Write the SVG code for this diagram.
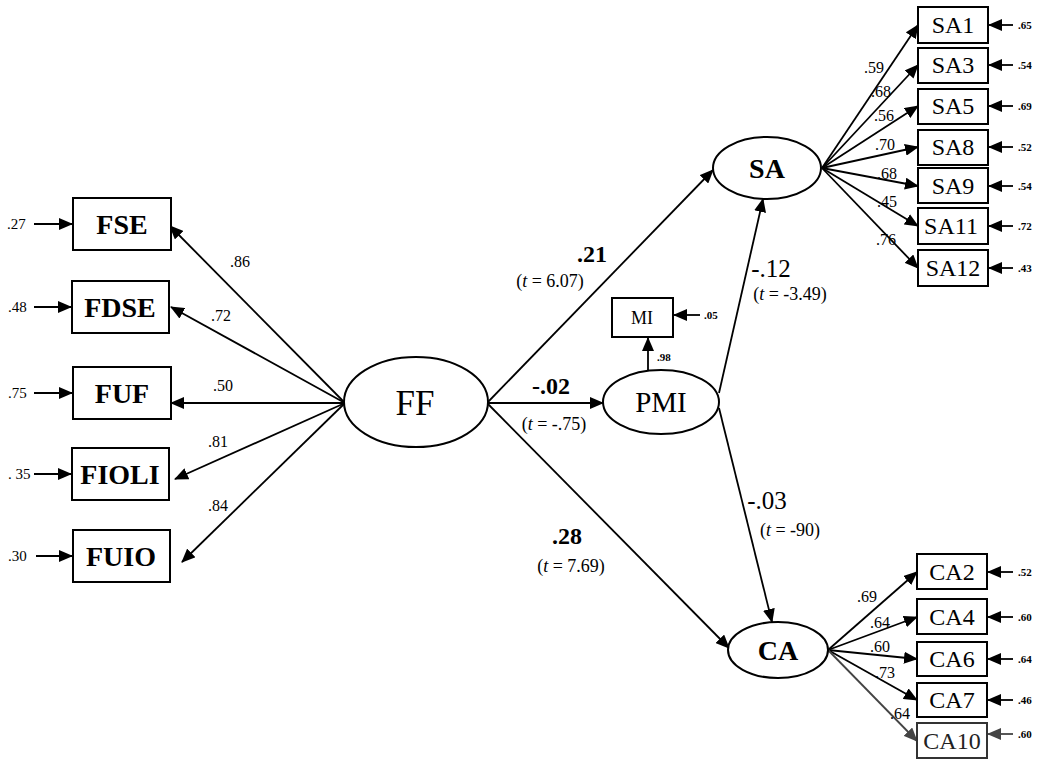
<svg xmlns="http://www.w3.org/2000/svg" width="1051" height="760" viewBox="0 0 1051 760">
<style>
.bx{fill:#fff;stroke:#000;stroke-width:2}
.el{fill:#fff;stroke:#000;stroke-width:2}
.ln{stroke:#000;stroke-width:1.8;fill:none;marker-end:url(#ah)}
.t{font-family:"Liberation Serif",serif;fill:#000}
.lb{font-size:28px;font-weight:bold;text-anchor:middle}
.ib{font-size:24px;text-anchor:middle}
.ld{font-size:16px}
.er{font-size:11px;font-weight:bold}
.erl{font-size:15px}
.pc{font-size:24px;font-weight:bold;text-anchor:middle}
.pr{font-size:25px;text-anchor:middle}
.tv{font-size:18px;text-anchor:middle}
</style>
<defs>
<marker id="ah" markerUnits="userSpaceOnUse" markerWidth="14" markerHeight="12" refX="13" refY="6" orient="auto">
<path d="M0,0 L14,6 L0,12 z" fill="#000"/>
</marker>
<marker id="ahg" markerUnits="userSpaceOnUse" markerWidth="14" markerHeight="12" refX="13" refY="6" orient="auto">
<path d="M0,0 L14,6 L0,12 z" fill="#444"/>
</marker>
</defs>
<rect width="1051" height="760" fill="#fff"/>

<g id="connectors">
<line class="ln" x1="345" y1="403" x2="170" y2="226"/>
<line class="ln" x1="345" y1="403" x2="171" y2="307"/>
<line class="ln" x1="345" y1="403" x2="171" y2="403"/>
<line class="ln" x1="345" y1="403" x2="175" y2="479"/>
<line class="ln" x1="345" y1="403" x2="182" y2="562"/>
<line class="ln" x1="34" y1="224" x2="72" y2="224"/>
<line class="ln" x1="34" y1="307" x2="71" y2="307"/>
<line class="ln" x1="34" y1="393" x2="72" y2="393"/>
<line class="ln" x1="34" y1="474" x2="71" y2="474"/>
<line class="ln" x1="36" y1="556" x2="72" y2="556"/>
<line class="ln" x1="488" y1="402" x2="713" y2="170"/>
<line class="ln" x1="488" y1="403" x2="603" y2="403"/>
<line class="ln" x1="488" y1="404" x2="729" y2="648"/>
<line class="ln" x1="719" y1="393" x2="763" y2="199"/>
<line class="ln" x1="719" y1="408" x2="772" y2="622"/>
<line class="ln" x1="648" y1="370" x2="648" y2="338"/>
<line class="ln" x1="700" y1="315" x2="674" y2="315"/>
<line class="ln" x1="822" y1="168" x2="918" y2="25"/>
<line class="ln" x1="822" y1="168" x2="918" y2="65"/>
<line class="ln" x1="822" y1="168" x2="918" y2="106"/>
<line class="ln" x1="822" y1="168" x2="918" y2="147"/>
<line class="ln" x1="822" y1="168" x2="918" y2="186"/>
<line class="ln" x1="822" y1="168" x2="918" y2="226"/>
<line class="ln" x1="822" y1="168" x2="918" y2="268"/>
<line class="ln" x1="1013" y1="25" x2="989" y2="25"/>
<line class="ln" x1="1013" y1="65" x2="989" y2="65"/>
<line class="ln" x1="1013" y1="106" x2="989" y2="106"/>
<line class="ln" x1="1013" y1="147" x2="989" y2="147"/>
<line class="ln" x1="1013" y1="186" x2="989" y2="186"/>
<line class="ln" x1="1013" y1="226" x2="989" y2="226"/>
<line class="ln" x1="1013" y1="268" x2="989" y2="268"/>
<line class="ln" x1="828" y1="650" x2="917" y2="572"/>
<line class="ln" x1="828" y1="650" x2="917" y2="617"/>
<line class="ln" x1="828" y1="650" x2="917" y2="659"/>
<line class="ln" x1="828" y1="650" x2="917" y2="700"/>
<line class="ln" x1="828" y1="650" x2="917" y2="741" style="stroke:#444;marker-end:url(#ahg)"/>
<line class="ln" x1="1013" y1="572" x2="988" y2="572"/>
<line class="ln" x1="1013" y1="617" x2="988" y2="617"/>
<line class="ln" x1="1013" y1="659" x2="988" y2="659"/>
<line class="ln" x1="1013" y1="700" x2="988" y2="700"/>
<line class="ln" x1="1013" y1="734" x2="988" y2="734" style="stroke:#444;marker-end:url(#ahg)"/>
<g class="t">
<text class="ld" x="230" y="267">.86</text>
<text class="ld" x="211" y="321">.72</text>
<text class="ld" x="213" y="391">.50</text>
<text class="ld" x="208" y="447">.81</text>
<text class="ld" x="208" y="511">.84</text>
<text class="erl" x="7" y="229">.27</text>
<text class="erl" x="8" y="312">.48</text>
<text class="erl" x="8" y="398">.75</text>
<text class="erl" x="8" y="479">. 35</text>
<text class="erl" x="8" y="561">.30</text>
<text class="pc" x="592" y="262">.21</text>
<text class="tv" x="550" y="287">(<tspan font-style="italic">t</tspan> = 6.07)</text>
<text class="pc" x="551" y="394">-.02</text>
<text class="tv" x="554" y="430">(<tspan font-style="italic">t</tspan> = -.75)</text>
<text class="pc" x="567" y="544">.28</text>
<text class="tv" x="571" y="572">(<tspan font-style="italic">t</tspan> = 7.69)</text>
<text class="pr" x="771" y="277">-.12</text>
<text class="tv" x="790" y="300">(<tspan font-style="italic">t</tspan> = -3.49)</text>
<text class="pr" x="767" y="509">-.03</text>
<text class="tv" x="790" y="536">(<tspan font-style="italic">t</tspan> = -90)</text>
<text class="er" x="657" y="361">.98</text>
<text class="er" x="704" y="319">.05</text>
<text class="ld" x="864" y="73">.59</text>
<text class="ld" x="871" y="97">.68</text>
<text class="ld" x="874" y="121">.56</text>
<text class="ld" x="875" y="150">.70</text>
<text class="ld" x="877" y="179">.68</text>
<text class="ld" x="877" y="207">.45</text>
<text class="ld" x="876" y="245">.76</text>
<text class="er" x="1018" y="29">.65</text>
<text class="er" x="1018" y="69">.54</text>
<text class="er" x="1018" y="110">.69</text>
<text class="er" x="1018" y="151">.52</text>
<text class="er" x="1018" y="190">.54</text>
<text class="er" x="1018" y="230">.72</text>
<text class="er" x="1018" y="272">.43</text>
<text class="ld" x="857" y="602">.69</text>
<text class="ld" x="870" y="628">.64</text>
<text class="ld" x="870" y="652">.60</text>
<text class="ld" x="875" y="678">.73</text>
<text class="ld" x="890" y="719">.64</text>
<text class="er" x="1018" y="576">.52</text>
<text class="er" x="1018" y="621">.60</text>
<text class="er" x="1018" y="663">.64</text>
<text class="er" x="1018" y="704">.46</text>
<text class="er" x="1018" y="738">.60</text>
</g>
</g>

<g id="FSE"><rect class="bx" x="73" y="198" width="98" height="52"/><text class="t lb" x="122" y="234">FSE</text></g>
<g id="FDSE"><rect class="bx" x="72" y="281" width="97" height="52"/><text class="t lb" x="120" y="317">FDSE</text></g>
<g id="FUF"><rect class="bx" x="73" y="367" width="98" height="52"/><text class="t lb" x="122" y="403">FUF</text></g>
<g id="FIOLI"><rect class="bx" x="72" y="448" width="97" height="52"/><text class="t lb" x="120" y="484">FIOLI</text></g>
<g id="FUIO"><rect class="bx" x="73" y="530" width="97" height="52"/><text class="t lb" x="121" y="566">FUIO</text></g>

<g id="FF"><ellipse class="el" cx="416" cy="402" rx="72" ry="45"/><text class="t" x="415" y="415" font-size="35" text-anchor="middle">FF</text></g>
<g id="PMI"><ellipse class="el" cx="661" cy="402" rx="58" ry="32"/><text class="t" x="661" y="412" font-size="29" text-anchor="middle">PMI</text></g>
<g id="MI"><rect class="bx" x="612" y="298" width="61" height="39"/><text class="t" x="642" y="324" font-size="18" text-anchor="middle">MI</text></g>
<g id="SA"><ellipse class="el" cx="767" cy="168" rx="54" ry="31"/><text class="t lb" x="767" y="178" font-size="27">SA</text></g>
<g id="CA"><ellipse class="el" cx="778" cy="650" rx="50" ry="28"/><text class="t lb" x="778" y="660" font-size="29">CA</text></g>

<g id="SA1"><rect class="bx" x="918" y="7" width="70" height="36"/><text class="t ib" x="953" y="33">SA1</text></g>
<g id="SA3"><rect class="bx" x="918" y="48" width="70" height="35"/><text class="t ib" x="953" y="73">SA3</text></g>
<g id="SA5"><rect class="bx" x="918" y="89" width="70" height="35"/><text class="t ib" x="953" y="114">SA5</text></g>
<g id="SA8"><rect class="bx" x="918" y="130" width="70" height="35"/><text class="t ib" x="953" y="155">SA8</text></g>
<g id="SA9"><rect class="bx" x="918" y="168" width="70" height="35"/><text class="t ib" x="953" y="194">SA9</text></g>
<g id="SA11"><rect class="bx" x="918" y="208" width="70" height="36"/><text class="t ib" x="951" y="234">SA11</text></g>
<g id="SA12"><rect class="bx" x="918" y="250" width="70" height="36"/><text class="t ib" x="953" y="276">SA12</text></g>

<g id="CA2"><rect class="bx" x="917" y="554" width="70" height="35"/><text class="t ib" x="952" y="580">CA2</text></g>
<g id="CA4"><rect class="bx" x="917" y="599" width="70" height="35"/><text class="t ib" x="952" y="625">CA4</text></g>
<g id="CA6"><rect class="bx" x="917" y="642" width="70" height="34"/><text class="t ib" x="952" y="667">CA6</text></g>
<g id="CA7"><rect class="bx" x="917" y="683" width="70" height="34"/><text class="t ib" x="952" y="708">CA7</text></g>
<g id="CA10"><rect class="bx" x="917" y="723" width="70" height="35" style="stroke:#333"/><text class="t ib" x="952" y="749" style="fill:#222">CA10</text></g>
</svg>
